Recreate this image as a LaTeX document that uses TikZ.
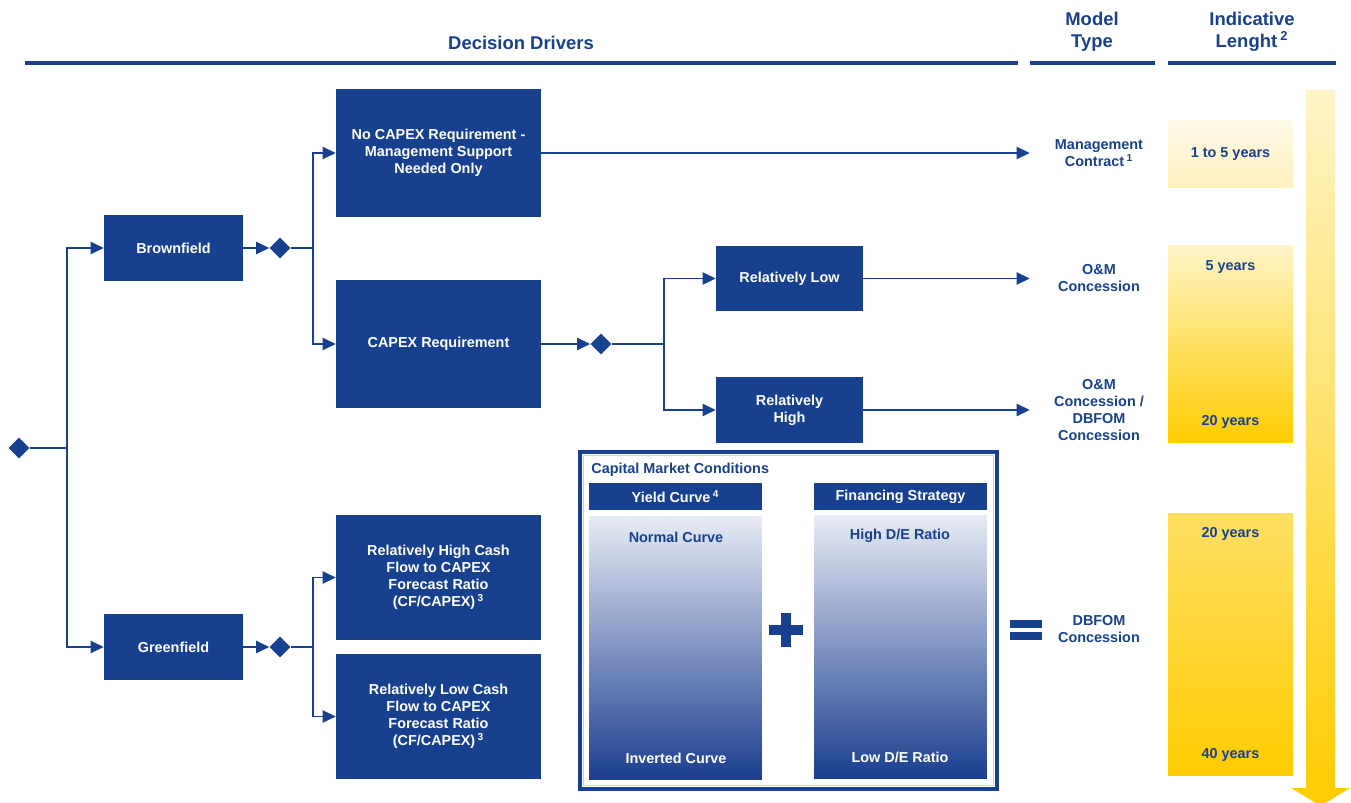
\documentclass[tikz,border=0pt]{standalone}
\usepackage{fontspec}
\setmainfont{Liberation Sans}
\usetikzlibrary{arrows.meta,shapes.geometric,positioning}

\definecolor{navy}{RGB}{23,65,143}
\definecolor{gold}{RGB}{255,204,0}
\definecolor{paleA}{RGB}{255,250,232}
\definecolor{paleB}{RGB}{255,240,190}
\definecolor{paleC}{RGB}{255,244,200}
\definecolor{paleD}{RGB}{255,223,102}
\definecolor{mistTop}{RGB}{231,235,245}
\definecolor{mistMid}{RGB}{152,170,207}
\definecolor{mistBot}{RGB}{26,62,142}

\newcommand{\bodyfont}{\bfseries\fontsize{8.2}{9.7}\selectfont}
\newcommand{\headfont}{\bfseries\fontsize{10.5}{12.5}\selectfont}

\tikzset{
  box/.style={fill=navy, text=white, font=\bodyfont, align=center, inner sep=0pt},
  dec/.style={diamond, fill=navy, inner sep=0pt, minimum size=0.42cm},
  link/.style={navy, line width=0.85pt},
  arr/.style={link, -{Triangle[length=7.4pt,width=7pt]}},
  lbl/.style={text=navy, font=\bodyfont, align=center, inner sep=0pt},
  mtype/.style={lbl, minimum width=2.76cm},
  head/.style={text=navy, font=\headfont, align=center},
  rule/.style={navy, line width=2.5pt},
  ybox/.style={minimum width=2.5cm, inner sep=0pt, text=navy, font=\bodyfont},
  mist/.style={minimum width=3.46cm, minimum height=5.28cm, inner sep=0pt,
    top color=mistTop, middle color=mistMid, bottom color=mistBot}
}

\begin{document}
\begin{tikzpicture}[x=0.02cm,y=-0.02cm]
  \useasboundingbox (0,0) rectangle (1351,803);

  % headers
  \node(HD)[head] at (521,43) {Decision Drivers};
  \node(HM)[head] at (1092,32) {Model\\Type};
  \node(HL)[head] at (1252,32) {Indicative\\Lenght\,\textsuperscript{2}};
  \draw[rule] (25,63) -- (1018,63);
  \draw[rule] (1030,63) -- (1155,63);
  \draw[rule] (1168,63) -- (1336,63);

  % decision tree
  \node(R)[dec] at (19,448) {};
  \coordinate(J0) at (67,448);
  \node(BF)[box, minimum width=2.78cm, minimum height=1.32cm] at (173.5,248) {Brownfield};
  \node(GF)[box, minimum width=2.78cm, minimum height=1.32cm] at (173.5,647) {Greenfield};
  \draw[link] (R) -- (J0);
  \draw[arr] (J0) |- (BF);
  \draw[arr] (J0) |- (GF);

  \node(D1)[dec] at (280,248) {};
  \coordinate(J1) at (313,248);
  \node(NC)[box, minimum width=4.1cm, minimum height=2.58cm] at (438.5,153)
    {No CAPEX Requirement -\\Management Support\\Needed Only};
  \node(CR)[box, minimum width=4.1cm, minimum height=2.56cm] at (438.5,344) {CAPEX Requirement};
  \draw[arr] (BF) -- (D1);
  \draw[link] (D1) -- (J1);
  \draw[arr] (J1) |- (NC);
  \draw[arr] (J1) |- (CR);

  \node(D2)[dec] at (601,344) {};
  \coordinate(J2) at (664,344);
  \node(RL)[box, minimum width=2.94cm, minimum height=1.3cm] at (789.5,278.5) {Relatively Low};
  \node(RH)[box, minimum width=2.94cm, minimum height=1.32cm] at (789.5,410) {Relatively\\High};
  \draw[arr] (CR) -- (D2);
  \draw[link] (D2) -- (J2);
  \draw[arr] (J2) |- (RL);
  \draw[arr] (J2) |- (RH);

  \node(D3)[dec] at (280,647) {};
  \coordinate(J3) at (313,647);
  \node(HC)[box, minimum width=4.1cm, minimum height=2.5cm] at (438.5,577.5)
    {Relatively High Cash\\Flow to CAPEX\\Forecast Ratio\\(CF/CAPEX)\,\textsuperscript{3}};
  \node(LC)[box, minimum width=4.1cm, minimum height=2.5cm] at (438.5,716.5)
    {Relatively Low Cash\\Flow to CAPEX\\Forecast Ratio\\(CF/CAPEX)\,\textsuperscript{3}};
  \draw[arr] (GF) -- (D3);
  \draw[link] (D3) -- (J3);
  \draw[arr] (J3) |- (HC);
  \draw[arr] (J3) |- (LC);

  % model types
  \node(MC)[mtype] at (1099,153) {Management\\Contract\,\textsuperscript{1}};
  \node(OM)[mtype] at (1099,278.5) {O\&M\\Concession};
  \node(OD)[mtype] at (1099,410) {O\&M\\Concession /\\DBFOM\\Concession};
  \node(DB)[mtype] at (1099,629) {DBFOM\\Concession};
  \draw[arr] (NC) -- (MC);
  \draw[arr] (RL) -- (OM);
  \draw[arr] (RH) -- (OD);

  % capital market conditions
  \draw[navy, line width=2.2pt] (580,452) rectangle (997,789);
  \draw[navy!25, line width=0.5pt] (583.5,455.5) rectangle (993.5,785.5);
  \node(CM)[lbl, anchor=west] at (591,470) {Capital Market Conditions};
  \node(YC)[box, minimum width=3.46cm, minimum height=0.54cm] at (675.5,496.5) {Yield Curve\,\textsuperscript{4}};
  \node(FS)[box, minimum width=3.46cm, minimum height=0.54cm] at (900.5,496.5) {Financing Strategy};
  \node(YG)[mist] at (675.5,648) {};
  \node(FG)[mist] at (900.5,647) {};
  \node(YN)[lbl] at (676,537) {Normal Curve};
  \node(YI)[lbl, text=white] at (676,758) {Inverted Curve};
  \node(FH)[lbl] at (900,536) {High D/E Ratio};
  \node(FL)[lbl, text=white] at (900,757) {Low D/E Ratio};
  \fill[navy] (769,625) rectangle (803,635);
  \fill[navy] (781,613) rectangle (791,647);
  \fill[navy] (1010,620) rectangle (1042,628);
  \fill[navy] (1010,632) rectangle (1042,640);

  % indicative length
  \shade[top color=paleC, bottom color=gold]
    (1306,90) -- (1335,90) -- (1335,788) -- (1350,788) -- (1320.5,806)
    -- (1291,788) -- (1306,788) -- cycle;
  \node(YA)[ybox, minimum height=1.34cm, top color=paleA, bottom color=paleB] at (1230.5,154) {1 to 5 years};
  \node(YB)[ybox, minimum height=3.96cm, top color=paleC, bottom color=gold] at (1230.5,344) {};
  \node(YB1)[lbl] at (1230.5,267) {5 years};
  \node(YB2)[lbl] at (1230.5,422) {20 years};
  \node(YCb)[ybox, minimum height=5.26cm, top color=paleD, bottom color=gold] at (1230.5,644.5) {};
  \node(YC1)[lbl] at (1230.5,534) {20 years};
  \node(YC2)[lbl] at (1230.5,755) {40 years};
\end{tikzpicture}
\end{document}
